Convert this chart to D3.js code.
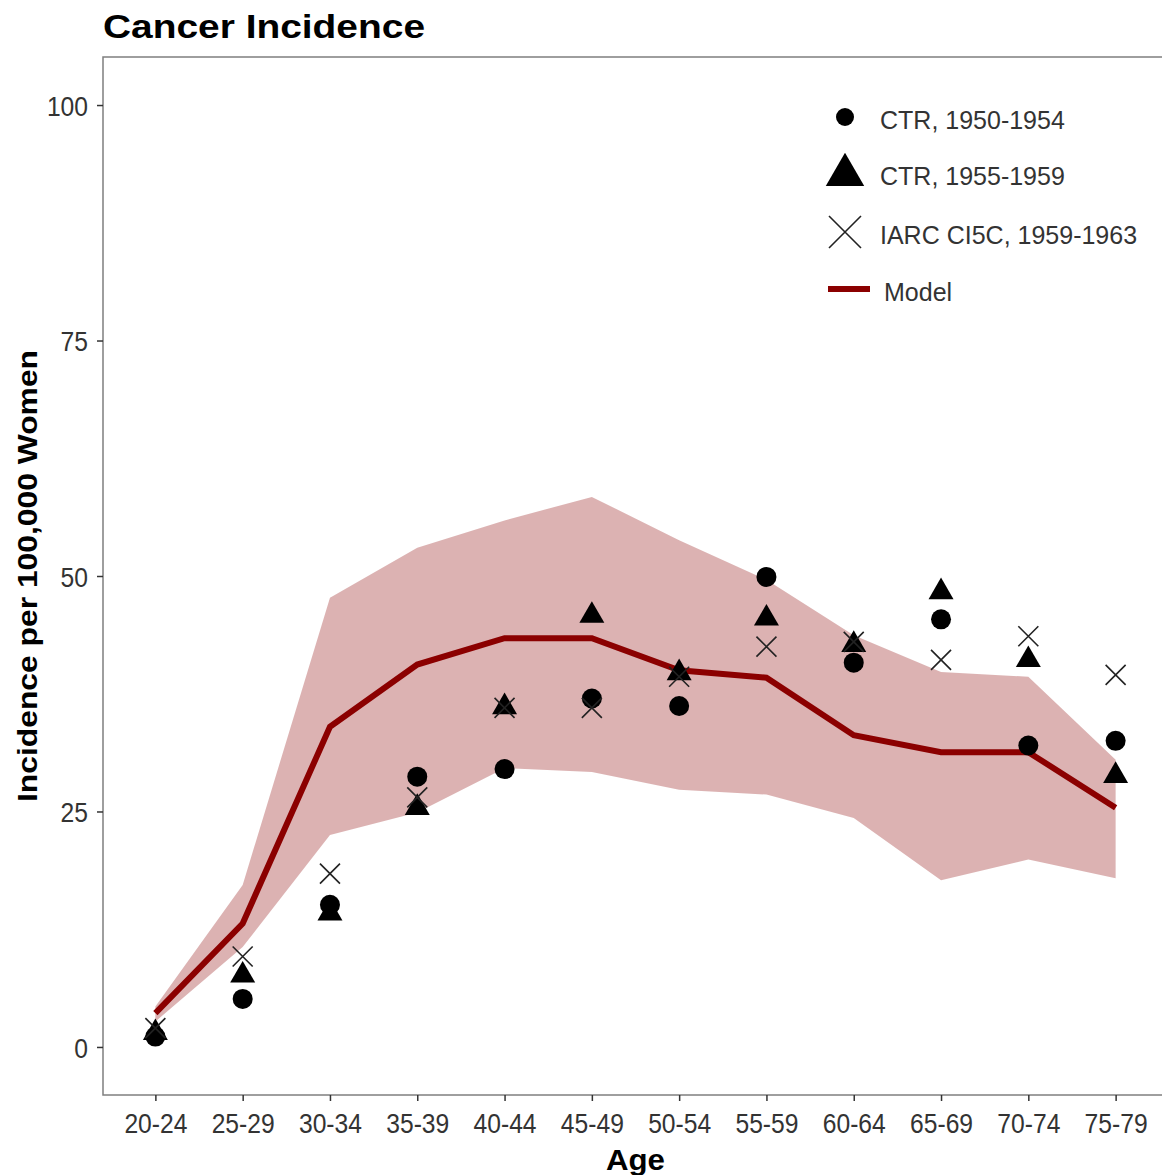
<!DOCTYPE html>
<html>
<head>
<meta charset="utf-8">
<script src="https://cdn.jsdelivr.net/npm/d3@7"></script>
<style>
  body { margin: 0; background: #fff; }
  text { font-family: "Liberation Sans", Arial, sans-serif; }
</style>
</head>
<body>
<div id="chart"></div>
<script>
// age groups and series
var ages = ["20-24","25-29","30-34","35-39","40-44","45-49","50-54","55-59","60-64","65-69","70-74","75-79"];
var ctr5054 = [1.1, 5.1, 15.1, 28.7, 29.5, 37.0, 36.2, 49.9, 40.8, 45.4, 32.0, 32.5];
var ctr5559 = [1.5, 7.6, 14.2, 25.4, 36.1, 45.8, 39.7, 45.5, 42.7, 48.3, 41.1, 28.8];
var iarc = [2.0, 9.6, 18.4, 26.5, 36.0, 36.0, 39.3, 42.5, 43.0, 41.1, 43.6, 39.5];
var model = [3.6, 13.1, 34.0, 40.6, 43.4, 43.4, 40.0, 39.2, 33.1, 31.3, 31.3, 25.4];
var modelLow = [2.7, 10.6, 22.5, 24.9, 29.6, 29.2, 27.3, 26.8, 24.3, 17.7, 19.9, 17.9];
var modelHigh = [4.3, 17.2, 47.7, 53.0, 55.9, 58.4, 53.8, 49.6, 43.7, 39.8, 39.3, 30.5];
var yTicks = [0, 25, 50, 75, 100];
var legendLabels = ["CTR, 1950-1954", "CTR, 1955-1959", "IARC CI5C, 1959-1963", "Model"];

var W = 1162, H = 1175;
var pLeft = 103, pTop = 57, pRight = 1168, pBottom = 1095;
var red = "#8b0000";

var svg = d3.select("#chart").append("svg")
    .attr("width", W)
    .attr("height", H);

var x = d3.scalePoint()
    .domain(ages)
    .range([pLeft, pRight])
    .padding(0.6);

var y = d3.scaleLinear()
    .domain([-5.1, 105.1])
    .range([pBottom, pTop]);

// title
svg.append("text")
    .attr("x", 103)
    .attr("y", 38)
    .attr("textLength", 322)
    .attr("lengthAdjust", "spacingAndGlyphs")
    .style("font-size", "33px")
    .style("font-weight", "bold")
    .text("Cancer Incidence");

// ribbon
var rows = ages.map(function(a, i) {
    return {age: a, lo: modelLow[i], hi: modelHigh[i], m: model[i], c1: ctr5054[i], c2: ctr5559[i], c3: iarc[i]};
});

svg.append("path")
    .datum(rows)
    .attr("d", d3.area()
        .x(function(d) { return x(d.age); })
        .y0(function(d) { return y(d.lo); })
        .y1(function(d) { return y(d.hi); }))
    .style("fill", red)
    .style("fill-opacity", 0.3);

svg.append("path")
    .datum(rows)
    .attr("d", d3.line()
        .x(function(d) { return x(d.age); })
        .y(function(d) { return y(d.m); }))
    .style("fill", "none")
    .style("stroke", red)
    .style("stroke-width", 6);

// points
svg.selectAll(".pt1")
    .data(rows)
    .enter()
    .append("circle")
    .attr("cx", function(d) { return x(d.age); })
    .attr("cy", function(d) { return y(d.c1); })
    .attr("r", 10)
    .style("fill", "#000");

var tri = d3.symbol().type(d3.symbolTriangle).size(270);
svg.selectAll(".pt2")
    .data(rows)
    .enter()
    .append("path")
    .attr("d", tri)
    .attr("transform", function(d) { return "translate(" + x(d.age) + "," + y(d.c2) + ")"; })
    .style("fill", "#000");

function cross(s) {
    return "M" + (-s) + "," + (-s) + "L" + s + "," + s + "M" + (-s) + "," + s + "L" + s + "," + (-s);
}
svg.selectAll(".pt3")
    .data(rows)
    .enter()
    .append("path")
    .attr("d", cross(10))
    .attr("transform", function(d) { return "translate(" + x(d.age) + "," + y(d.c3) + ")"; })
    .style("fill", "none")
    .style("stroke", "#222")
    .style("stroke-width", 1.6);

// panel border
svg.append("rect")
    .attr("x", pLeft)
    .attr("y", pTop)
    .attr("width", pRight - pLeft)
    .attr("height", pBottom - pTop)
    .style("fill", "none")
    .style("stroke", "#7f7f7f")
    .style("stroke-width", 1.5);

// axes
var xAxis = svg.append("g")
    .attr("transform", "translate(0," + pBottom + ")")
    .call(d3.axisBottom(x).tickSize(6).tickPadding(12));
var yAxis = svg.append("g")
    .attr("transform", "translate(" + pLeft + ",0)")
    .call(d3.axisLeft(y).tickValues(yTicks).tickSize(6).tickPadding(9));

[xAxis, yAxis].forEach(function(g) {
    g.select(".domain").remove();
    g.selectAll(".tick line").style("stroke", "#333").style("stroke-width", 1.5);
    g.selectAll(".tick text")
        .style("font-size", "28px")
        .style("fill", "#333")
        .style("font-family", "'Liberation Sans', Arial, sans-serif")
        .each(function() {
            // the reference font is narrower than Liberation Sans
            var len = this.getComputedTextLength();
            d3.select(this).attr("textLength", len * 0.88).attr("lengthAdjust", "spacingAndGlyphs");
        });
});
yAxis.selectAll(".tick text").attr("dy", "0.36em");

// axis titles
svg.append("text")
    .attr("x", (pLeft + pRight) / 2)
    .attr("y", 1170)
    .attr("text-anchor", "middle")
    .attr("textLength", 59)
    .attr("lengthAdjust", "spacingAndGlyphs")
    .style("font-size", "29px")
    .style("font-weight", "bold")
    .text("Age");

svg.append("text")
    .attr("transform", "translate(37," + ((pTop + pBottom) / 2) + ")rotate(-90)")
    .attr("text-anchor", "middle")
    .attr("textLength", 452)
    .attr("lengthAdjust", "spacingAndGlyphs")
    .style("font-size", "27px")
    .style("font-weight", "bold")
    .text("Incidence per 100,000 Women");

// legend
var legend = svg.append("g").attr("transform", "translate(845,0)");
var rowY = [117, 173, 232, 289];

legend.append("circle").attr("cx", 0).attr("cy", rowY[0]).attr("r", 9).style("fill", "#000");
legend.append("path")
    .attr("d", d3.symbol().type(d3.symbolTriangle).size(640))
    .attr("transform", "translate(0," + (rowY[1] + 2) + ")")
    .style("fill", "#000");
legend.append("path")
    .attr("d", cross(16))
    .attr("transform", "translate(0," + rowY[2] + ")")
    .style("fill", "none")
    .style("stroke", "#222")
    .style("stroke-width", 1.6);
legend.append("line")
    .attr("x1", -17).attr("x2", 25)
    .attr("y1", rowY[3]).attr("y2", rowY[3])
    .style("stroke", red)
    .style("stroke-width", 6);

legend.selectAll(".lab")
    .data(legendLabels)
    .enter()
    .append("text")
    .attr("x", function(d, i) { return i == 3 ? 39 : 35; })
    .attr("y", function(d, i) { return rowY[i] + 3; })
    .attr("dy", "0.36em")
    .style("font-size", "25px")
    .style("fill", "#333")
    .text(function(d) { return d; });
</script>
</body>
</html>
